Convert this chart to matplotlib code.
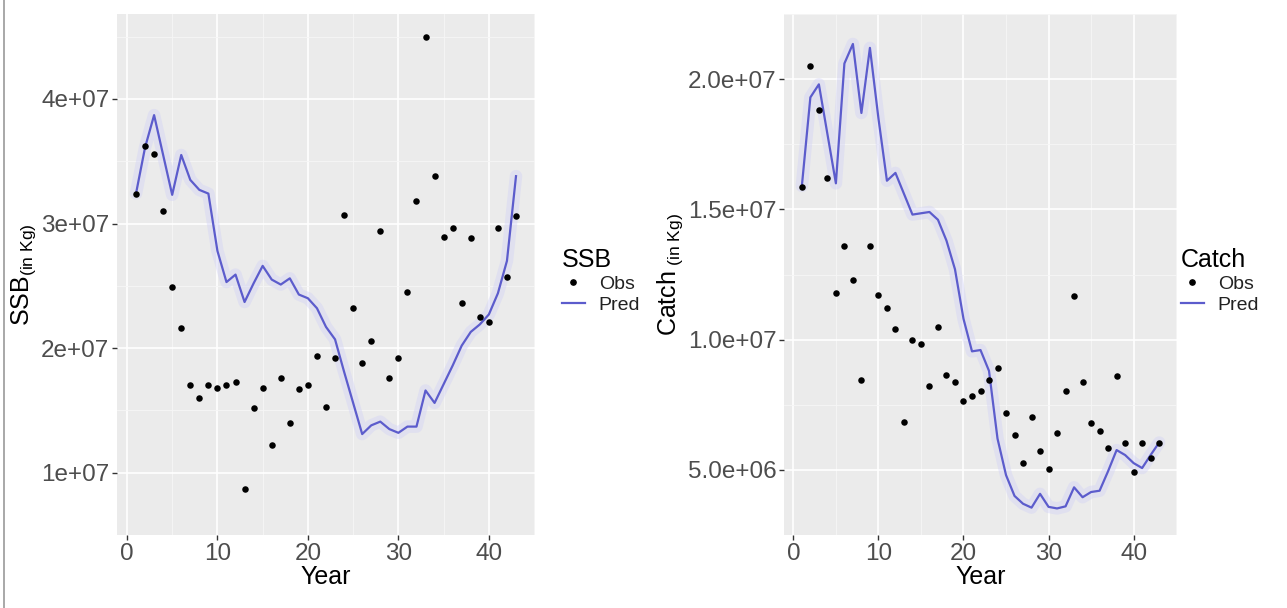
import matplotlib
matplotlib.use("Agg")
import matplotlib.pyplot as plt
from matplotlib.lines import Line2D

plt.rcParams['font.family'] = ['Liberation Sans', 'DejaVu Sans']
plt.rcParams['mathtext.fontset'] = 'custom'
plt.rcParams['mathtext.rm'] = 'Liberation Sans'
plt.rcParams['mathtext.it'] = 'Liberation Sans:italic'

# ---------------- data (values in millions of kg) ----------------
years = list(range(1, 44))

ssb_obs = [32.4, 36.2, 35.6, 31.0, 24.9, 21.6, 17.0, 16.0, 17.0, 16.8,
           17.0, 17.3, 8.7, 15.2, 16.8, 12.2, 17.6, 14.0, 16.7, 17.0,
           19.4, 15.3, 19.2, 30.7, 23.2, 18.8, 20.6, 29.4, 17.6, 19.2,
           24.5, 31.8, 45.0, 33.8, 28.9, 29.6, 23.6, 28.8, 22.5, 22.1,
           29.6, 25.7, 30.6]
ssb_pred = [32.4, 36.1, 38.7, 35.5, 32.3, 35.5, 33.5, 32.7, 32.4, 27.8,
            25.3, 25.9, 23.7, 25.2, 26.6, 25.5, 25.1, 25.6, 24.3, 24.0,
            23.2, 21.7, 20.7, 18.1, 15.6, 13.1, 13.8, 14.1, 13.5, 13.2,
            13.7, 13.7, 16.6, 15.6, 17.1, 18.6, 20.2, 21.3, 21.9, 22.7,
            24.4, 27.0, 33.8]

catch_obs = [15.85, 20.5, 18.8, 16.2, 11.8, 13.6, 12.3, 8.45, 13.6, 11.7,
             11.2, 10.4, 6.83, 9.98, 9.85, 8.21, 10.48, 8.66, 8.36, 7.64,
             7.83, 8.02, 8.46, 8.92, 7.17, 6.33, 5.27, 7.02, 5.74, 5.02,
             6.43, 8.03, 11.67, 8.37, 6.80, 6.49, 5.84, 8.62, 6.02, 4.92,
             6.04, 5.46, 6.05]
catch_pred = [15.9, 19.3, 19.8, 17.9, 16.0, 20.6, 21.35, 18.7, 21.2, 18.5,
              16.1, 16.4, 15.6, 14.8, 14.85, 14.9, 14.6, 13.8, 12.7, 10.8,
              9.55, 9.6, 8.8, 6.2, 4.8, 4.0, 3.7, 3.55, 4.08, 3.58,
              3.52, 3.6, 4.33, 3.95, 4.15, 4.2, 4.95, 5.76, 5.57, 5.26,
              5.07, 5.57, 6.05]

x_ticks = [0, 10, 20, 30, 40]
ssb_ticks = [1e7, 2e7, 3e7, 4e7]
ssb_tick_labels = ['1e+07', '2e+07', '3e+07', '4e+07']
catch_ticks = [5e6, 1e7, 1.5e7, 2e7]
catch_tick_labels = ['5.0e+06', '1.0e+07', '1.5e+07', '2.0e+07']
legend_labels = ['Obs', 'Pred']

SCALE = 1e6
LINE_COL = '#5c5ccc'
BG = '#EBEBEB'
TICK_COL = '#4D4D4D'

W, H = 1287, 608
fig = plt.figure(figsize=(W / 100, H / 100), dpi=100)


def fx(px):
    return px / W


def fy(py):
    return 1 - py / H


def style_ax(ax, yticks, ylabels, yminor):
    ax.set_facecolor(BG)
    for s in ax.spines.values():
        s.set_visible(False)
    ax.set_xticks(x_ticks)
    ax.set_xticks([5, 15, 25, 35, 45], minor=True)
    ax.set_yticks(yticks)
    ax.set_yticklabels(ylabels)
    ax.set_yticks(yminor, minor=True)
    ax.grid(which='major', color='white', linewidth=1.2)
    ax.grid(which='minor', color='#f6f6f6', linewidth=0.6)
    ax.set_axisbelow(True)
    ax.tick_params(which='major', length=3.5, width=1, color='#333333',
                   labelsize=17.5, labelcolor=TICK_COL, pad=2)
    ax.tick_params(which='minor', length=0)
    ax.set_xlabel('Year', fontsize=18, color='black', labelpad=0)


def draw(ax, obs, pred):
    yv_obs = [v * SCALE for v in obs]
    yv_pred = [v * SCALE for v in pred]
    ax.plot(years, yv_pred, color='#d0d0f6', linewidth=9, alpha=0.4,
            solid_capstyle='round', zorder=2)
    ax.plot(years, yv_pred, color=LINE_COL, linewidth=1.6, zorder=3)
    ax.scatter(years, yv_obs, s=22, color='black', zorder=4, linewidths=0)
    xmin, xmax = min(years), max(years)
    pad = 0.05 * (xmax - xmin)
    ax.set_xlim(xmin - pad, xmax + pad)
    allv = yv_obs + yv_pred
    lo, hi = min(allv), max(allv)
    p = 0.05 * (hi - lo)
    ax.set_ylim(lo - p, hi + p)


# left panel
axL = fig.add_axes([fx(117), fy(535), fx(535 - 117), (535 - 14) / H])
draw(axL, ssb_obs, ssb_pred)
style_ax(axL, ssb_ticks, ssb_tick_labels, [0.5e7, 1.5e7, 2.5e7, 3.5e7, 4.5e7])
axL.set_ylabel(r'SSB$_{\mathrm{(in\ Kg)}}$', fontsize=18, labelpad=2)

# right panel
axR = fig.add_axes([fx(784), fy(535), fx(1177 - 784), (535 - 14) / H])
draw(axR, catch_obs, catch_pred)
style_ax(axR, catch_ticks, catch_tick_labels, [2.5e6, 7.5e6, 1.25e7, 1.75e7, 2.25e7])
axR.set_ylabel(r'Catch$_{\mathrm{\ (in\ Kg)}}$', fontsize=18, labelpad=2)


def add_legend(title, x_px):
    h_obs = Line2D([], [], linestyle='none', marker='o', markersize=3.8,
                   color='black')
    h_pred = Line2D([], [], color=LINE_COL, linewidth=1.6)
    leg = fig.legend([h_obs, h_pred], legend_labels, title=title,
                     loc='center left',
                     bbox_to_anchor=(fx(x_px), fy(281)),
                     frameon=False, fontsize=14, title_fontsize=18,
                     handlelength=1.2, handletextpad=0.7,
                     labelspacing=0.15, borderpad=0, alignment='left')
    for t in leg.get_texts():
        t.set_color('#222222')
    return leg


add_legend('SSB', 552)
add_legend('Catch', 1171)

# thin border line on the far left of the image
fig.add_artist(Line2D([fx(4), fx(4)], [0, 1], color='#999999', linewidth=1.2))

fig.savefig('out.png', dpi=100, facecolor='white')
